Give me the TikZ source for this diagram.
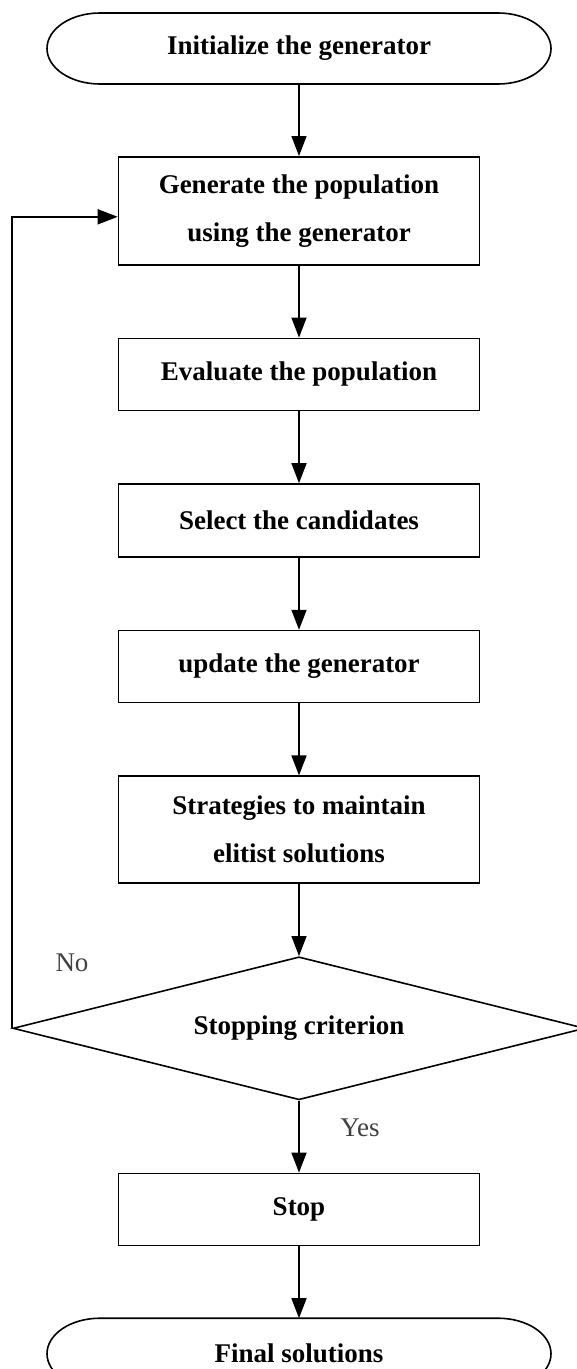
\documentclass[tikz,border=0pt]{standalone}
\usepackage{fontspec}
\setmainfont{Liberation Serif}
\usetikzlibrary{arrows.meta,positioning,shapes.geometric}

\tikzset{
  every path/.style={line width=1.6pt},
  >={Triangle[length=20pt,width=15pt]},
  stepbox/.style={draw,minimum width=361pt,minimum height=72pt,inner sep=0pt,align=center,
    font=\bfseries\fontsize{27pt}{48pt}\selectfont},
  terminal/.style={minimum width=504pt,minimum height=71pt,inner sep=0pt,outer sep=0pt,
    font=\bfseries\fontsize{27pt}{48pt}\selectfont},
  decision/.style={draw,diamond,aspect=4,minimum width=572pt,minimum height=143pt,inner sep=0pt,
    font=\bfseries\fontsize{27pt}{48pt}\selectfont},
  answer/.style={text=black!75,font=\fontsize{27pt}{32pt}\selectfont}
}

\begin{document}
\begin{tikzpicture}[x=1pt,y=1pt,node distance=72pt]
  \useasboundingbox (0,0) rectangle (577,-1369);

  \node[terminal] (init) at (299,-48.5) {Initialize the generator};
  \node[stepbox,below=of init,minimum height=108pt] (gen) {Generate the population\\using the generator};
  \node[stepbox,below=of gen] (eval) {Evaluate the population};
  \node[stepbox,below=of eval,minimum height=73pt] (sel) {Select the candidates};
  \node[stepbox,below=of sel] (upd) {update the generator};
  \node[stepbox,below=of upd,minimum height=107pt] (elite) {Strategies to maintain\\elitist solutions};
  \node[decision,below=of elite] (crit) {Stopping criterion};
  \node[stepbox,below=of crit] (stop) {Stop};
  \node[terminal,below=of stop] (final) {Final solutions};

  % stadium outlines
  \foreach \t in {init,final} {
    \draw ([xshift=53pt]\t.north west) -- ([xshift=-53pt]\t.north east)
      arc[start angle=90,end angle=-90,x radius=53pt,y radius=35.5pt]
      -- ([xshift=53pt]\t.south west)
      arc[start angle=270,end angle=90,x radius=53pt,y radius=35.5pt] -- cycle;
  }

  \foreach \a/\b in {init/gen,gen/eval,eval/sel,sel/upd,upd/elite,elite/crit,crit/stop,stop/final}
    \draw[->] (\a) -- (\b);

  % loop back
  \draw[->] (crit.west) |- ([yshift=-6pt]gen.west);

  \node[answer] (no) at (72,-963) {No};
  \node[answer] (yes) at (360,-1128) {Yes};
\end{tikzpicture}
\end{document}
